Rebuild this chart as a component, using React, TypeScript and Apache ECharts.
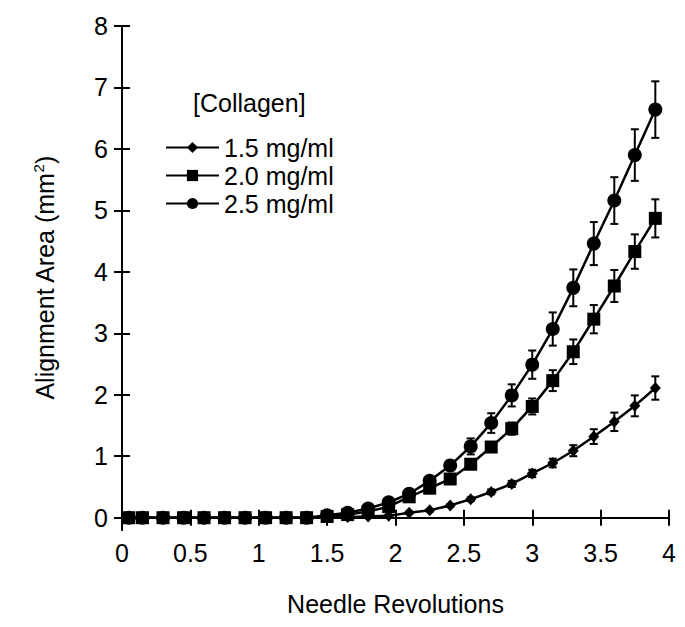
import React, { useEffect, useRef } from "react";
import * as echarts from "echarts";

// Needle revolutions (x)
const revolutions = [0.05, 0.15, 0.3, 0.45, 0.6, 0.75, 0.9, 1.05, 1.2, 1.35, 1.5, 1.65, 1.8, 1.95, 2.1, 2.25, 2.4, 2.55, 2.7, 2.85, 3.0, 3.15, 3.3, 3.45, 3.6, 3.75, 3.9];

// 1.5 mg/ml (diamonds)
const area15 = [0, 0, 0, 0, 0, 0, 0, 0, 0, 0, 0.01, 0.01, 0.02, 0.03, 0.08, 0.12, 0.2, 0.3, 0.42, 0.55, 0.72, 0.89, 1.09, 1.32, 1.56, 1.82, 2.11];
const err15 = [0, 0, 0, 0, 0, 0, 0, 0, 0, 0, 0, 0.01, 0.01, 0.01, 0.02, 0.02, 0.02, 0.03, 0.04, 0.05, 0.06, 0.07, 0.09, 0.12, 0.15, 0.17, 0.19];

// 2.0 mg/ml (squares)
const area20 = [0, 0, 0, 0, 0, 0, 0, 0, 0, 0, 0.02, 0.05, 0.1, 0.18, 0.34, 0.48, 0.63, 0.87, 1.15, 1.45, 1.81, 2.23, 2.7, 3.23, 3.77, 4.33, 4.87];
const err20 = [0, 0, 0, 0, 0, 0, 0, 0, 0, 0, 0, 0.01, 0.01, 0.02, 0.03, 0.04, 0.05, 0.06, 0.08, 0.1, 0.13, 0.17, 0.2, 0.23, 0.26, 0.28, 0.31];

// 2.5 mg/ml (circles)
const area25 = [0, 0, 0, 0, 0, 0, 0, 0, 0, 0, 0.04, 0.08, 0.15, 0.25, 0.39, 0.6, 0.85, 1.16, 1.54, 1.99, 2.49, 3.07, 3.74, 4.46, 5.16, 5.9, 6.64];
const err25 = [0, 0, 0, 0, 0, 0, 0, 0, 0, 0, 0, 0.02, 0.03, 0.04, 0.05, 0.06, 0.08, 0.13, 0.16, 0.18, 0.23, 0.27, 0.3, 0.35, 0.38, 0.42, 0.46];

const seriesNames = ["1.5 mg/ml", "2.0 mg/ml", "2.5 mg/ml"];
const yTicks = [0, 1, 2, 3, 4, 5, 6, 7, 8];

const FONT = "'Liberation Sans', Arial, sans-serif";
const FS = 25;

function lineData(vals: number[]) {
  return revolutions.map((x, i) => [x, vals[i]]);
}
function errData(vals: number[], errs: number[]) {
  return revolutions
    .map((x, i) => [x, vals[i] - errs[i], vals[i] + errs[i]])
    .filter((_, i) => errs[i] > 0);
}

function errorSeries(vals: number[], errs: number[]) {
  return {
    type: "custom",
    xAxisIndex: 0,
    yAxisIndex: 0,
    silent: true,
    z: 3,
    data: errData(vals, errs),
    encode: { x: 0, y: [1, 2] },
    renderItem: (params: any, api: any) => {
      const x = api.value(0);
      const lo = api.coord([x, api.value(1)]);
      const hi = api.coord([x, api.value(2)]);
      const hw = 4;
      const style = { stroke: "#000", lineWidth: 2 };
      return {
        type: "group",
        children: [
          { type: "line", shape: { x1: lo[0], y1: lo[1], x2: hi[0], y2: hi[1] }, style },
          { type: "line", shape: { x1: lo[0] - hw, y1: lo[1], x2: lo[0] + hw, y2: lo[1] }, style },
          { type: "line", shape: { x1: hi[0] - hw, y1: hi[1], x2: hi[0] + hw, y2: hi[1] }, style },
        ],
      };
    },
  };
}

function mainSeries(name: string, vals: number[], symbol: string, size: number | number[], z: number) {
  return {
    type: "line",
    name,
    data: lineData(vals),
    symbol,
    symbolSize: size,
    showSymbol: true,
    z,
    lineStyle: { color: "#000", width: 2.5 },
    itemStyle: { color: "#000", borderWidth: 0 },
  };
}

export default function App() {
  const ref = useRef<HTMLDivElement>(null);
  useEffect(() => {
    const chart = echarts.init(ref.current!, null, { renderer: "svg" });
    const axisLine = { show: true, lineStyle: { color: "#000", width: 2 } };
    const axisTickStyle = { lineStyle: { color: "#000", width: 2 } };
    const option: any = {
      animation: false,
      backgroundColor: "#fff",
      textStyle: { fontFamily: FONT, color: "#000" },
      grid: { left: 122, right: 16, top: 26, bottom: 97, containLabel: false, outerBoundsMode: "none" },
      title: {
        text: "[Collagen]",
        left: 193,
        top: 90,
        padding: 0,
        textStyle: { fontFamily: FONT, fontSize: FS, fontWeight: "normal", color: "#000" },
      },
      legend: {
        data: seriesNames,
        orient: "vertical",
        left: 165,
        top: 135,
        padding: 0,
        itemWidth: 53,
        itemHeight: 14,
        itemGap: 3,
        textStyle: { fontFamily: FONT, fontSize: FS, color: "#000" },
      },
      xAxis: [
        {
          type: "value",
          min: 0,
          max: 4,
          interval: 0.5,
          position: "bottom",
          name: "Needle Revolutions",
          nameLocation: "middle",
          nameGap: 61,
          nameTextStyle: { fontFamily: FONT, fontSize: FS, color: "#000" },
          axisLine,
          axisTick: { show: true, inside: true, length: 8, ...axisTickStyle },
          axisLabel: { fontFamily: FONT, fontSize: FS, color: "#000", margin: 10 },
          splitLine: { show: false },
        },
        {
          type: "value",
          min: 0,
          max: 4,
          interval: 0.5,
          position: "top",
          axisLine,
          axisTick: { show: true, inside: true, length: 8, ...axisTickStyle },
          axisLabel: { show: false },
          splitLine: { show: false },
        },
      ],
      yAxis: [
        {
          type: "value",
          min: -0.2,
          max: 8,
          position: "left",
          name: "Alignment Area (mm{s|2})",
          nameLocation: "middle",
          nameGap: 64,
          nameRotate: 90,
          nameTextStyle: {
            fontFamily: FONT,
            fontSize: FS,
            color: "#000",
            rich: { s: { fontFamily: FONT, fontSize: 15, color: "#000", padding: [0, 0, 12, 0] } },
          },
          axisLine,
          axisTick: { show: true, inside: true, length: 8, customValues: yTicks, ...axisTickStyle },
          axisLabel: { fontFamily: FONT, fontSize: FS, color: "#000", margin: 14, customValues: yTicks },
          splitLine: { show: false },
        },
        {
          type: "value",
          min: -0.2,
          max: 8,
          position: "right",
          axisLine,
          axisTick: { show: true, inside: true, length: 8, customValues: yTicks, ...axisTickStyle },
          axisLabel: { show: false },
          splitLine: { show: false },
        },
      ],
      series: [
        errorSeries(area15, err15),
        errorSeries(area20, err20),
        errorSeries(area25, err25),
        mainSeries(seriesNames[0], area15, "diamond", [11, 12], 5),
        mainSeries(seriesNames[2], area25, "circle", 14, 6),
        mainSeries(seriesNames[1], area20, "rect", 13, 7),
      ],
    };
    chart.setOption(option);
    return () => chart.dispose();
  }, []);
  return (
    <div
      ref={ref}
      style={{ position: "fixed", left: 0, top: 0, width: 685, height: 627, background: "#fff" }}
    />
  );
}
